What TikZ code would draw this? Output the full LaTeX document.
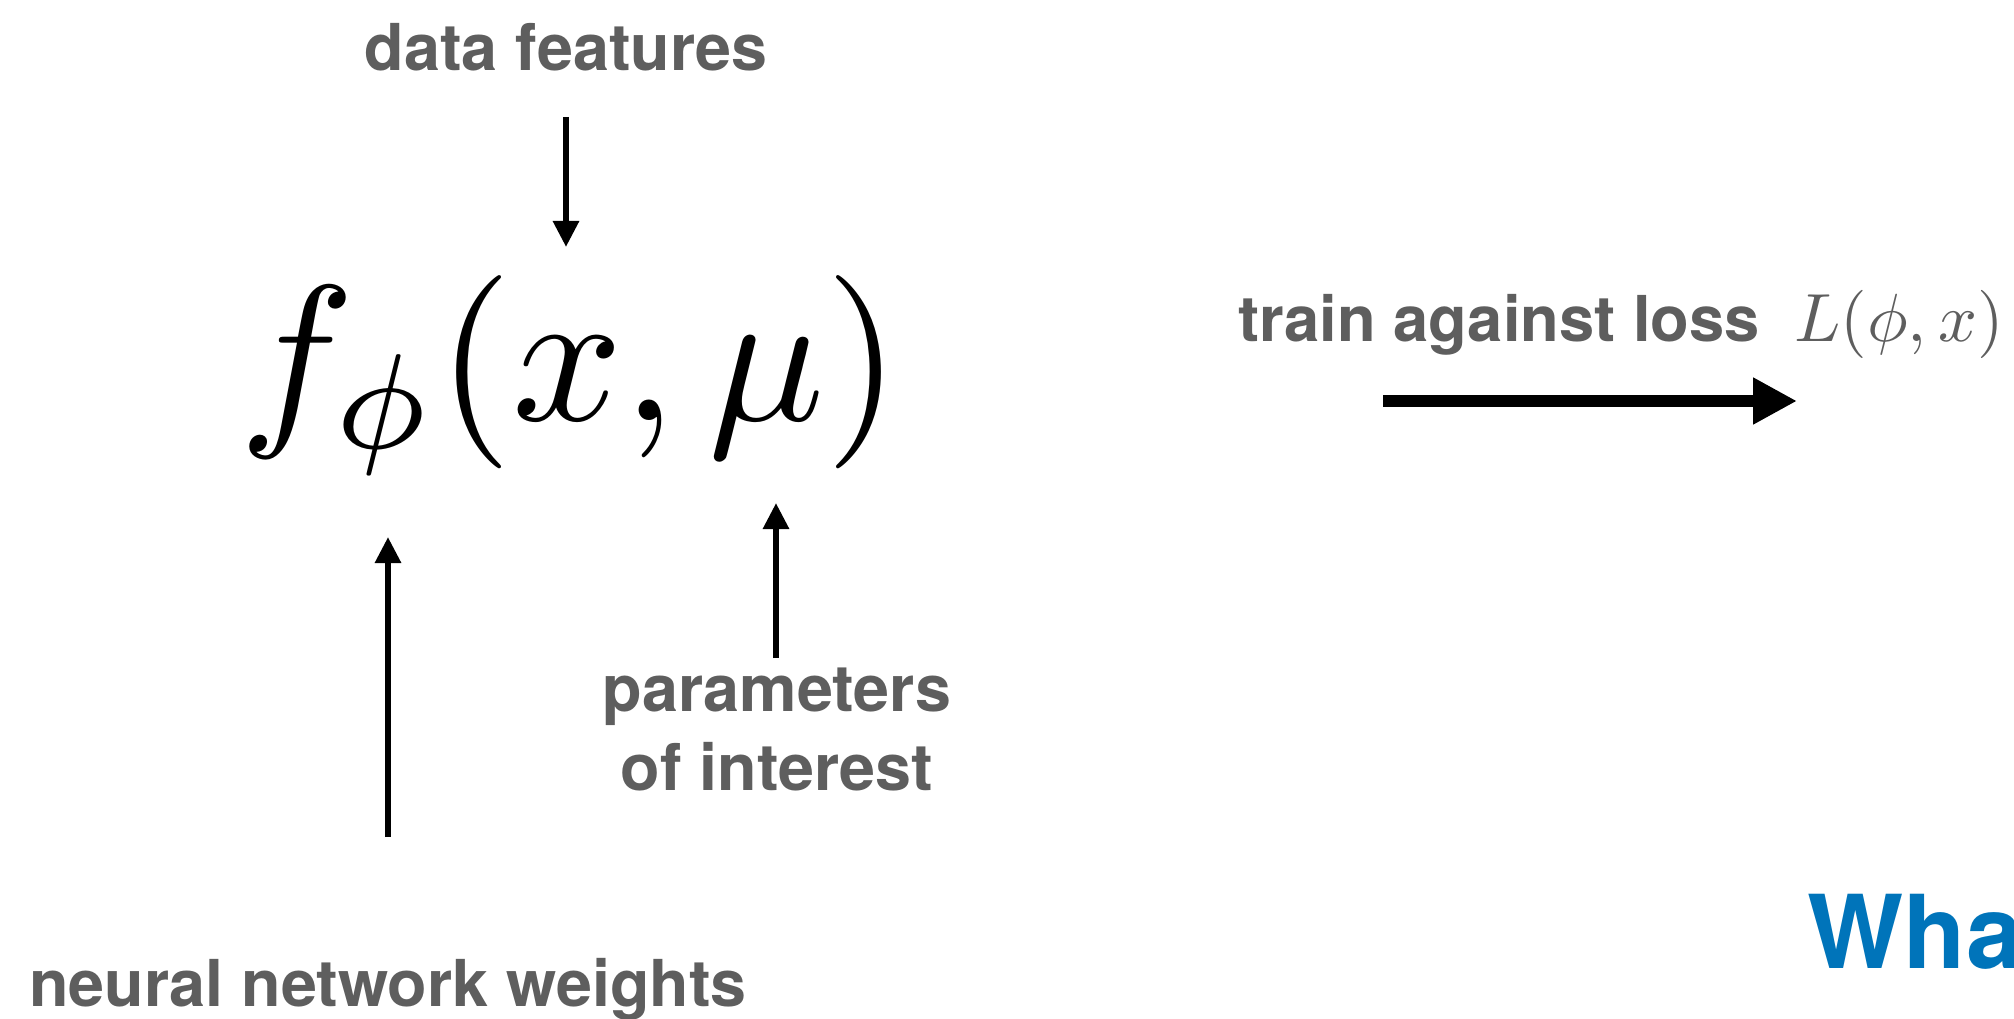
\documentclass[tikz,border=0pt]{standalone}
\usepackage{fontspec}
\usepackage{graphicx}
\newfontfamily\heros{TeX Gyre Heros}
\usetikzlibrary{arrows.meta,positioning}
\definecolor{lblgray}{RGB}{94,94,94}
\definecolor{titleblue}{RGB}{0,116,186}
\begin{document}
\begin{tikzpicture}[x=1cm,y=1cm,
    lbl/.style={text=lblgray,font=\heros\bfseries\fontsize{18.4}{22.3}\selectfont,inner sep=0pt},
    feed/.style={line width=1.7pt,-{Triangle[length=2.6mm,width=2.5mm]}},
    train/.style={line width=3.4pt,-{Triangle[length=4.4mm,width=4.4mm]}}]
  \useasboundingbox (0,0) rectangle (20.14,10.18);
  % the model and its inputs
  \node[anchor=base west,inner sep=0pt,scale=5.5] (model) at (2.36,5.98) {$f_\phi(x,\mu)$};
  \node[lbl,anchor=base] (feat) at (5.66,9.47) {data features};
  \node[lbl,anchor=base] (weights) at (3.88,0.12) {neural network weights};
  \node[lbl,anchor=base,align=center] (params) at (7.77,2.28) {parameters\\of interest};
  \coordinate (featA) at (5.66,9.01);
  \coordinate (featB) at (5.66,7.71);
  \coordinate (wA) at (3.88,1.81);
  \coordinate (wB) at (3.88,4.81);
  \coordinate (pA) at (7.76,3.60);
  \coordinate (pB) at (7.76,5.15);
  \draw[feed] (featA) -- (featB);
  \draw[feed] (wA) -- (wB);
  \draw[feed] (pA) -- (pB);
  % training step
  \node[lbl,anchor=base west,font=\heros\bfseries\fontsize{18}{22}\selectfont] (trainlbl) at (12.38,6.77) {train against loss};
  \node[anchor=base west,inner sep=0pt,text=lblgray,scale=1.94] (lossfn) at (17.93,6.77) {$L(\phi,x)$};
  \coordinate (tA) at (13.83,6.17);
  \coordinate (tB) at (17.97,6.17);
  \draw[train] (tA) -- (tB);
  \node[anchor=base west,inner sep=0pt,text=titleblue,font=\heros\bfseries\fontsize{29}{34}\selectfont] (title) at (18.07,0.50) {Wha};
\end{tikzpicture}
\end{document}
